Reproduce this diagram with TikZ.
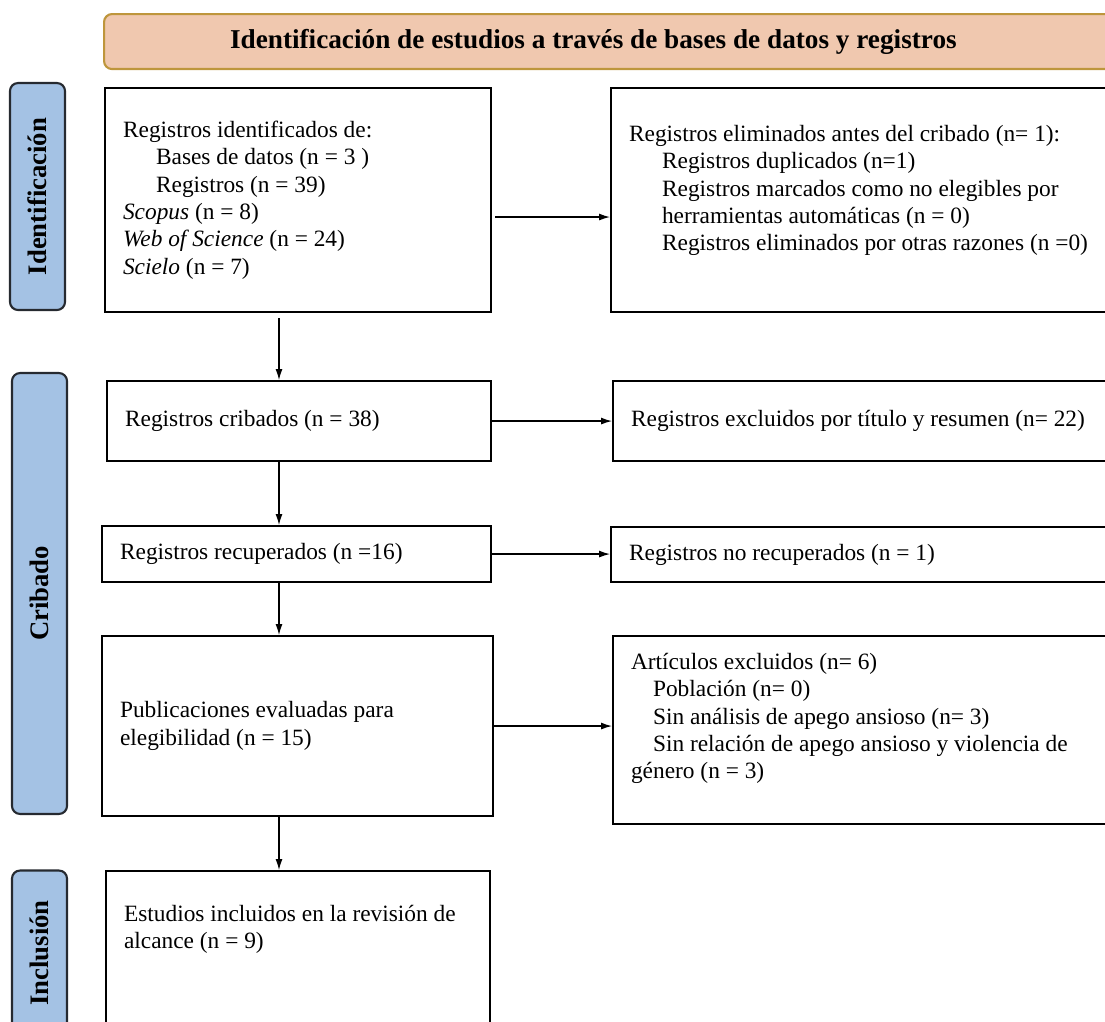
\documentclass[tikz,border=0pt]{standalone}
\usepackage{fontspec}
\setmainfont{Liberation Serif}
\usetikzlibrary{arrows.meta, positioning}

\definecolor{headfill}{HTML}{F0C8AF}
\definecolor{headline}{HTML}{BE963C}
\definecolor{phasefill}{HTML}{A4C2E4}
\definecolor{phaseline}{HTML}{262A30}

\newcommand{\topbox}[3]{\begin{minipage}[c][#1][t]{#2}\raggedright #3\end{minipage}}

\tikzset{
  box/.style={draw, line width=1.2pt, anchor=north west, align=flush left, inner xsep=0.36cm, inner ysep=0pt, font=\fontsize{13.3}{15.6}\selectfont},
  head/.style={draw=headline, fill=headfill, line width=1.2pt, rounded corners=0.16cm, anchor=north west, align=flush left, inner xsep=2.52cm, inner ysep=0pt, font=\fontsize{15.5}{18}\selectfont\bfseries},
  phase/.style={draw=phaseline, fill=phasefill, line width=1.2pt, rounded corners=0.16cm, rotate=90, minimum height=1.1cm, inner sep=0pt, font=\fontsize{15.2}{18}\selectfont\bfseries},
  flow/.style={-{Latex[length=0.22cm,width=0.14cm]}, line width=0.7pt}
}

\begin{document}
\begin{tikzpicture}[x=0.02cm, y=-0.02cm]
\useasboundingbox (0,0) rectangle (1105,1021);
\clip (0,0) rectangle (1105,1021);

\node[head, minimum height=1.1cm, text width=15.7cm] (header) at (103,13) {Identificación de estudios a través de bases de datos y registros};

% fases
\node[phase, minimum width=4.54cm] (idphase) at (37.5,196.5) {Identificación};
\node[phase, minimum width=8.82cm] (scphase) at (39.5,593.5) {Cribado};
\node[phase, minimum width=3.3cm] (inphase) at (39.5,953) {Inclusión};

% columna principal
\node[box, minimum width=7.72cm, minimum height=4.48cm, text width=7cm] (idbox) at (104,87) {Registros identificados de:\\
\hspace*{0.66cm}Bases de datos (n = 3 )\\
\hspace*{0.66cm}Registros (n = 39)\\
\textit{Scopus} (n = 8)\\
\textit{Web of Science} (n = 24)\\
\textit{Scielo} (n = 7)};
\node[box, minimum width=7.68cm, minimum height=1.6cm, text width=6.96cm] (screened) at (106,380) {Registros cribados (n = 38)};
\node[box, minimum width=7.78cm, minimum height=1.12cm, text width=7.06cm] (retrieved) at (101,525) {Registros recuperados (n =16)};
\node[box, minimum width=7.82cm, minimum height=3.6cm, text width=7.1cm] (assessed) at (101,635) {Publicaciones evaluadas para\\elegibilidad (n = 15)};
\node[box, inner ysep=0.68cm] (included) at (105,870) {\topbox{2.64cm}{6.96cm}{Estudios incluidos en la revisión de\\alcance (n = 9)}};

% columna de exclusiones
\node[box, inner ysep=0.74cm] (removed) at (610,87) {\topbox{3cm}{9.88cm}{Registros eliminados antes del cribado (n= 1):\\
\hspace*{0.66cm}Registros duplicados (n=1)\\
\hspace*{0.66cm}Registros marcados como no elegibles por\\
\hspace*{0.66cm}herramientas automáticas (n = 0)\\
\hspace*{0.66cm}Registros eliminados por otras razones (n =0)}};
\node[box, minimum width=10.56cm, minimum height=1.6cm, text width=9.84cm] (excluded) at (612,380) {Registros excluidos por título y resumen (n= 22)};
\node[box, minimum width=10.6cm, minimum height=1.1cm, text width=9.88cm] (notretr) at (610,526) {Registros no recuperados (n = 1)};
\node[box, inner ysep=0.34cm] (artexcl) at (612,635) {\topbox{3.08cm}{9.84cm}{Artículos excluidos (n= 6)\\
\hspace*{0.44cm}Población (n= 0)\\
\hspace*{0.44cm}Sin análisis de apego ansioso (n= 3)\\
\hspace*{0.44cm}Sin relación de apego ansioso y violencia de\\
género (n = 3)}};

% flechas
\coordinate (spine) at (279,0);
\draw[flow, shorten <=0.1cm] (idbox.south -| spine) -- (screened.north -| spine);
\draw[flow] (screened.south -| spine) -- (retrieved.north -| spine);
\draw[flow] (retrieved.south -| spine) -- (assessed.north -| spine);
\draw[flow] (assessed.south -| spine) -- (included.north -| spine);

\draw[flow, shorten <=0.06cm] ([yshift=-0.34cm]idbox.east) -- ([yshift=-0.34cm]idbox.east -| removed.west);
\draw[flow] (screened.east) -- (screened.east -| excluded.west);
\draw[flow] (retrieved.east) -- (retrieved.east -| notretr.west);
\draw[flow] (assessed.east) -- (assessed.east -| artexcl.west);
\end{tikzpicture}
\end{document}
